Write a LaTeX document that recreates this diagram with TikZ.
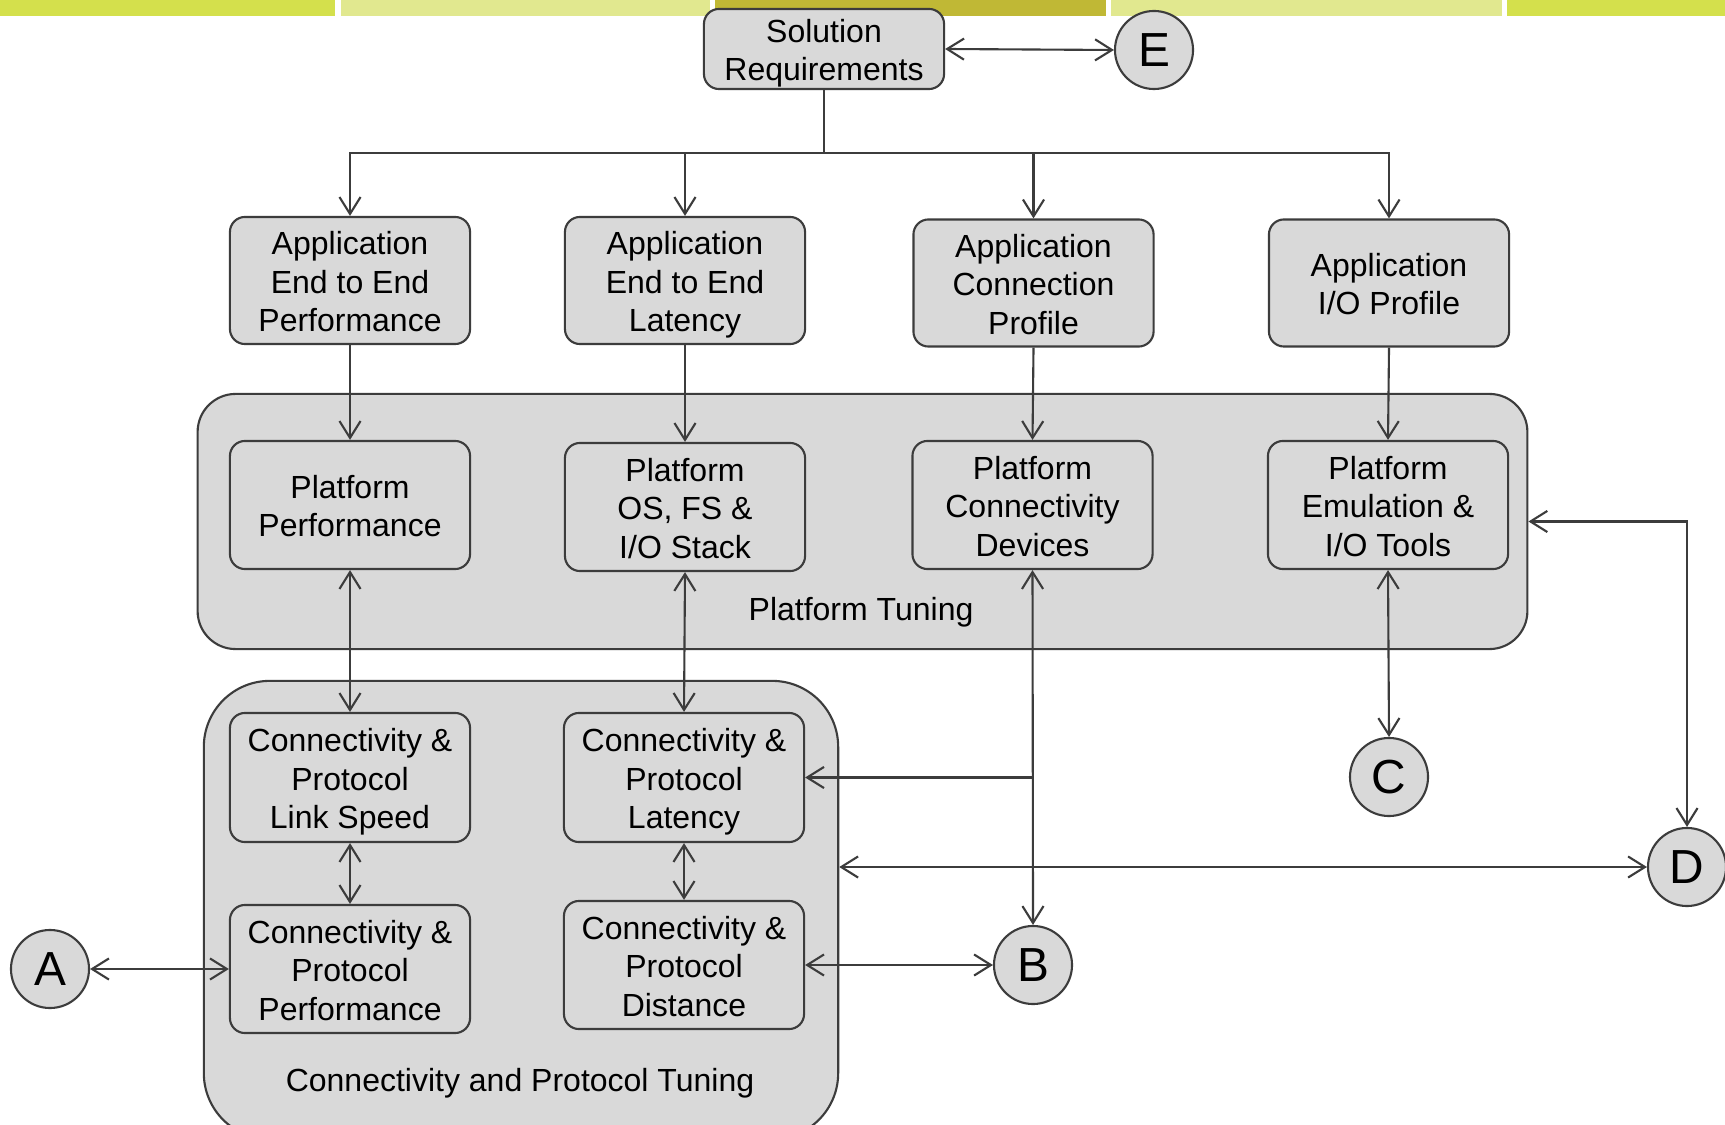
\documentclass[tikz,border=0pt]{standalone}
\usepackage{fontspec}
\setmainfont{Liberation Sans}
\usetikzlibrary{arrows.meta,calc}
\definecolor{linec}{HTML}{3C3C3C}
\definecolor{boxc}{HTML}{D9D9D9}
\definecolor{barA}{HTML}{D4E04C}
\definecolor{barB}{HTML}{E1E88F}
\definecolor{barC}{HTML}{C0B835}
% fixed top and bottom extent so text sits the same in every box
\newcommand{\topstrut}{\rule{0pt}{9.2pt}}
\newcommand{\botstrut}{\rule[-2pt]{0pt}{2pt}}
\newcommand{\bx}[1]{\topstrut#1\botstrut}
\tikzset{
  vtip/.tip={Straight Barb[length=4.8pt, width=6pt]},
  txt/.style={font=\fontsize{9.1}{10.95}\selectfont, align=center, text=black},
  box/.style={txt, draw=linec, fill=boxc, line width=0.6pt, rounded corners=0.15cm,
    minimum width=2.4cm, minimum height=1.27cm, inner sep=0pt},
  group/.style={draw=linec, fill=boxc, line width=0.6pt, inner sep=0pt},
  port/.style={circle, draw=linec, fill=boxc, line width=0.6pt, minimum size=0.78cm,
    inner sep=0pt, font=\fontsize{13.6}{14}\selectfont},
  arr/.style={draw=linec, line width=0.6pt, -{vtip}},
  dbl/.style={draw=linec, line width=0.6pt, {vtip}-{vtip}},
}
\begin{document}
\begin{tikzpicture}[x=0.01cm, y=-0.01cm]
\useasboundingbox (0,0) rectangle (1725,1125);
\clip (0,0) rectangle (1725,1125);
\fill[white] (0,0) rectangle (1725,1125);

% header bars
\fill[barA] (0,0) rectangle (335,16);
\fill[barB] (341,0) rectangle (710,16);
\fill[barC] (715,0) rectangle (1106,16);
\fill[barB] (1111,0) rectangle (1502,16);
\fill[barA] (1507,0) rectangle (1725,16);

% tuning groups
\node[group, rounded corners=0.38cm, minimum width=13.29cm, minimum height=2.55cm] (pt) at (862.5,521.5) {};
\node[txt] (ptlabel) at (861,608) {\bx{Platform Tuning}};
\node[group, rounded corners=0.66cm, minimum width=6.34cm, minimum height=4.58cm] (cpt) at (521,910) {};
\node[txt] (cptlabel) at (520,1079) {\bx{Connectivity and Protocol Tuning}};

% requirement and application boxes
\node[box, minimum height=0.8cm] (sr) at (824,49) {\bx{Solution\\Requirements}};
\node[box] (app1) at (350,280.5) {\bx{Application\\End to End\\Performance}};
\node[box] (app2) at (685,280.5) {\bx{Application\\End to End\\Latency}};
\node[box] (app3) at (1033.5,283) {\bx{Application\\Connection\\Profile}};
\node[box] (app4) at (1389,283) {\bx{Application\\I/O Profile}};

% platform boxes
\node[box, minimum height=1.28cm] (plat1) at (350,505) {\bx{Platform\\Performance}};
\node[box, minimum height=1.28cm] (plat2) at (685,507) {\bx{Platform\\OS, FS \&\\I/O Stack}};
\node[box, minimum height=1.28cm] (plat3) at (1032.5,505) {\bx{Platform\\Connectivity\\Devices}};
\node[box, minimum height=1.28cm] (plat4) at (1388,505) {\bx{Platform\\Emulation \&\\I/O Tools}};

% connectivity and protocol boxes
\node[box, minimum height=1.29cm] (cp1) at (350,777.5) {\bx{Connectivity \&\\Protocol\\Link Speed}};
\node[box, minimum height=1.29cm] (cp2) at (684,777.5) {\bx{Connectivity \&\\Protocol\\Latency}};
\node[box, minimum height=1.28cm] (cp3) at (350,969) {\bx{Connectivity \&\\Protocol\\Performance}};
\node[box, minimum height=1.28cm] (cp4) at (684,965) {\bx{Connectivity \&\\Protocol\\Distance}};

% off-page ports
\node[port] (a) at (50,969) {A};
\node[port] (b) at (1033,965) {B};
\node[port] (c) at (1389,777) {C};
\node[port] (d) at (1687,867) {D};
\node[port] (e) at (1154,50) {E};

% connectors
\draw[dbl] (sr.east) -- (e.west);
\coordinate (split) at (824,153);
\draw[draw=linec, line width=0.6pt] (sr.south) -- (split);
\draw[arr] (split) -| (app1.north);
\draw[arr] (split) -| (app2.north);
\draw[arr] (split) -| (app3.north);
\draw[arr] (split) -| (app4.north);

\draw[arr] (app1.south) -- (plat1.north);
\draw[arr] (app2.south) -- (plat2.north);
\draw[arr] (app3.south) -- (plat3.north);
\draw[arr] (app4.south) -- (plat4.north);

\draw[dbl] (plat1.south) -- (cp1.north);
\draw[dbl] (plat2.south) -- (cp2.north);
\draw[dbl] (plat3.south) -- (b.north);
\coordinate (tap) at (plat3.south |- cp2.east);
\draw[arr] (tap) -- (cp2.east);
\draw[dbl] (plat4.south) -- (c.north);
\draw[dbl] (pt.east) -| (d.north);

\draw[dbl] (cp1.south) -- (cp3.north);
\draw[dbl] (cp2.south) -- (cp4.north);
\draw[dbl] (a.east) -- (cp3.west);
\draw[dbl] (cp4.east) -- (b.west);
\draw[dbl] (cpt.east |- d.west) -- (d.west);
\end{tikzpicture}
\end{document}
